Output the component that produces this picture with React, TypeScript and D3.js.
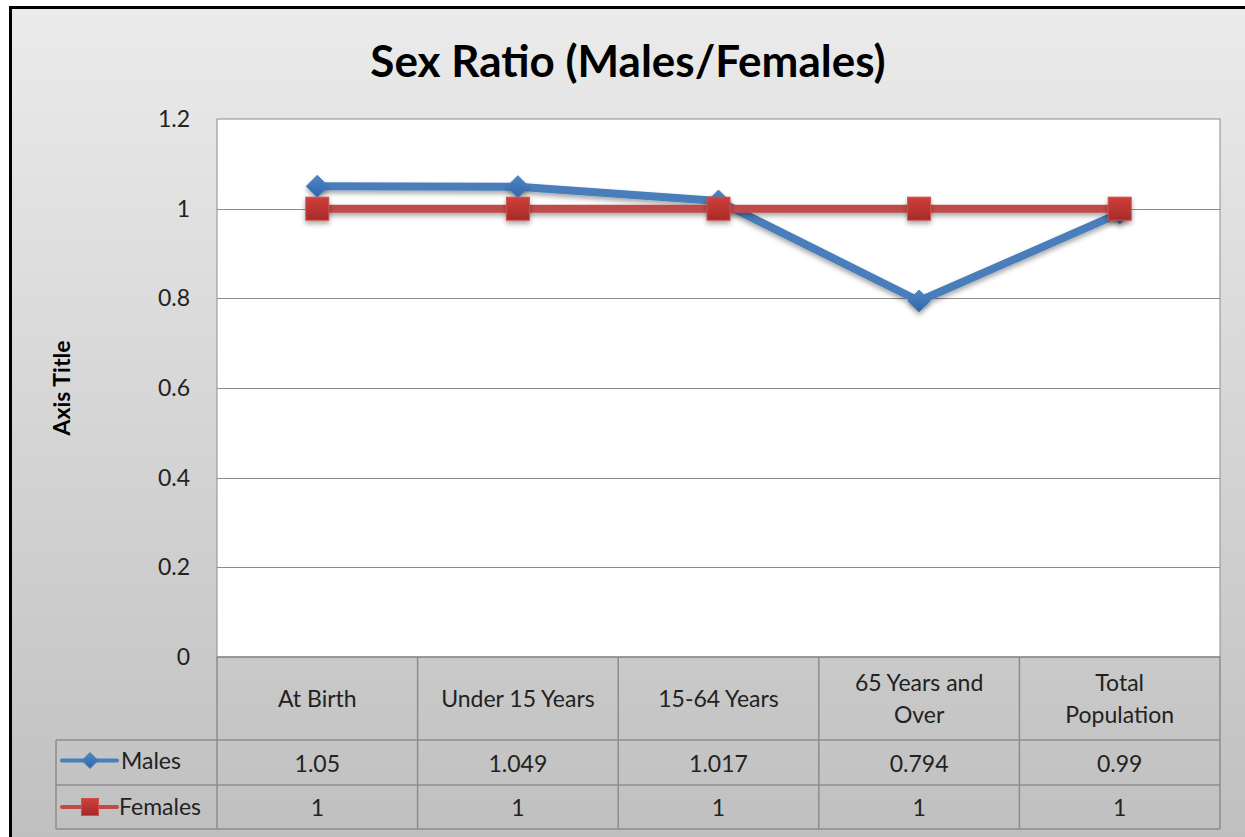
import React, { useEffect, useRef } from 'react'
import * as d3 from 'd3'

const categories = ['At Birth', 'Under 15 Years', '15-64 Years', '65 Years and Over', 'Total Population']
const categoryLines = [['At Birth'], ['Under 15 Years'], ['15-64 Years'], ['65 Years and', 'Over'], ['Total', 'Population']]
const males = [1.05, 1.049, 1.017, 0.794, 0.99]
const females = [1, 1, 1, 1, 1]
const maleLabels = ['1.05', '1.049', '1.017', '0.794', '0.99']
const femaleLabels = ['1', '1', '1', '1', '1']
const yTicks = [0, 0.2, 0.4, 0.6, 0.8, 1, 1.2]

const FONT = 'Lato, "Open Sans", sans-serif'
const BLUE = '#4a7ebb'
const RED = '#be4b48'

export default function App() {
  const ref = useRef<SVGSVGElement>(null)

  useEffect(() => {
    if (!ref.current) return
    const svg = d3.select(ref.current)
    svg.selectAll('*').remove()

    const W = 1245
    const H = 837
    const left = 217
    const right = 1220
    const top = 119
    const bottom = 657
    const legendLeft = 56
    const rowHead = 740
    const rowM = 785
    const rowF = 829

    const defs = svg.append('defs')
    const bg = defs.append('linearGradient').attr('id', 'bg').attr('x1', 0).attr('y1', 0).attr('x2', 0).attr('y2', 1)
    bg.append('stop').attr('offset', '0%').attr('stop-color', '#ebebeb')
    bg.append('stop').attr('offset', '100%').attr('stop-color', '#c0c0c0')
    const sq = defs.append('linearGradient').attr('id', 'sq').attr('x1', 0).attr('y1', 0).attr('x2', 0).attr('y2', 1)
    sq.append('stop').attr('offset', '0%').attr('stop-color', '#cf3f3c')
    sq.append('stop').attr('offset', '100%').attr('stop-color', '#a52a28')
    const dm = defs.append('linearGradient').attr('id', 'dm').attr('x1', 0).attr('y1', 0).attr('x2', 0).attr('y2', 1)
    dm.append('stop').attr('offset', '0%').attr('stop-color', '#4f86c6')
    dm.append('stop').attr('offset', '100%').attr('stop-color', '#2f66a8')
    // user space filter so a flat horizontal line still gets a shadow
    const sh = defs.append('filter').attr('id', 'sh').attr('filterUnits', 'userSpaceOnUse')
      .attr('x', 0).attr('y', 0).attr('width', W).attr('height', H)
    sh.append('feDropShadow').attr('dx', 0).attr('dy', 3).attr('stdDeviation', 2.5).attr('flood-color', '#000').attr('flood-opacity', 0.35)

    // background + frame
    svg.append('rect').attr('x', 0).attr('y', 0).attr('width', W).attr('height', H).attr('fill', '#fff')
    svg.append('rect').attr('x', 11).attr('y', 8).attr('width', W - 11).attr('height', H - 8).attr('fill', 'url(#bg)')
    svg.append('path').attr('d', `M10.5,${H} V7.5 H${W}`).attr('fill', 'none').attr('stroke', '#000').attr('stroke-width', 3)

    const x = d3.scaleBand<string>().domain(categories).range([left, right])
    const y = d3.scaleLinear().domain([0, 1.2]).range([bottom, top])

    // plot area
    svg.append('rect').attr('x', left).attr('y', top).attr('width', right - left).attr('height', bottom - top)
      .attr('fill', '#fff').attr('stroke', '#8c8c8c').attr('stroke-width', 1)

    svg.append('g').selectAll('line').data(yTicks.filter(t => t > 0 && t < 1.2)).join('line')
      .attr('x1', left).attr('x2', right)
      .attr('y1', d => Math.round(y(d)) + 0.5).attr('y2', d => Math.round(y(d)) + 0.5)
      .attr('stroke', '#8c8c8c').attr('stroke-width', 1)

    svg.append('g').selectAll('text').data(yTicks).join('text')
      .attr('x', 190).attr('y', d => y(d) + 8)
      .attr('text-anchor', 'end')
      .style('font-family', FONT).style('font-size', '23px').style('fill', '#222')
      .text(d => String(d))

    // title
    svg.append('text').attr('x', 628).attr('y', 77).attr('text-anchor', 'middle')
      .style('font-family', FONT).style('font-size', '44px').style('font-weight', 'bold').style('fill', '#000')
      .text('Sex Ratio (Males/Females)')

    svg.append('text').attr('transform', `translate(70,${y(0.6)}) rotate(-90)`).attr('text-anchor', 'middle')
      .style('font-family', FONT).style('font-size', '23px').style('font-weight', 'bold').style('fill', '#000')
      .text('Axis Title')

    // data table
    const tbl = svg.append('g').attr('stroke', '#8c8c8c').attr('stroke-width', 1.5).attr('fill', 'none')
    const cols = categories.map(c => x(c)!).concat([right])
    cols.forEach(cx => {
      tbl.append('line').attr('x1', cx).attr('x2', cx).attr('y1', bottom).attr('y2', rowF)
    })
    tbl.append('line').attr('x1', legendLeft).attr('x2', legendLeft).attr('y1', rowHead).attr('y2', rowF)
    tbl.append('line').attr('x1', left).attr('x2', right).attr('y1', bottom).attr('y2', bottom)
    ;[rowHead, rowM, rowF].forEach(ry => {
      tbl.append('line').attr('x1', legendLeft).attr('x2', right).attr('y1', ry).attr('y2', ry)
    })

    const cx = (c: string) => x(c)! + x.bandwidth() / 2
    const txt = svg.append('g').style('font-family', FONT).style('font-size', '23px').style('fill', '#222').attr('text-anchor', 'middle')
    categories.forEach((c, i) => {
      const lines = categoryLines[i]
      const mid = (bottom + rowHead) / 2
      lines.forEach((ln, j) => {
        txt.append('text').attr('x', cx(c)).attr('y', mid + 8 + (j - (lines.length - 1) / 2) * 32).text(ln)
      })
      txt.append('text').attr('x', cx(c)).attr('y', (rowHead + rowM) / 2 + 9).text(maleLabels[i])
      txt.append('text').attr('x', cx(c)).attr('y', (rowM + rowF) / 2 + 9).text(femaleLabels[i])
    })

    const diamond = (g: d3.Selection<SVGGElement, unknown, null, undefined>, px: number, py: number, r: number) =>
      g.append('path').attr('d', `M${px},${py - r} L${px + r},${py} L${px},${py + r} L${px - r},${py} Z`)
        .attr('fill', 'url(#dm)').attr('stroke', BLUE).attr('stroke-width', 1)
    const square = (g: d3.Selection<SVGGElement, unknown, null, undefined>, px: number, py: number, s: number) =>
      g.append('rect').attr('x', px - s / 2).attr('y', py - s / 2).attr('width', s).attr('height', s)
        .attr('fill', 'url(#sq)').attr('stroke', '#d0504c').attr('stroke-width', 1)

    // legend keys
    const leg = svg.append('g')
    const lmY = (rowHead + rowM) / 2 - 2
    const lfY = (rowM + rowF) / 2
    leg.append('line').attr('x1', 62).attr('x2', 117).attr('y1', lmY).attr('y2', lmY).attr('stroke', BLUE).attr('stroke-width', 4).attr('stroke-linecap', 'round')
    diamond(leg, 90, lmY, 8)
    leg.append('line').attr('x1', 62).attr('x2', 117).attr('y1', lfY).attr('y2', lfY).attr('stroke', RED).attr('stroke-width', 4).attr('stroke-linecap', 'round')
    square(leg, 90, lfY, 17)
    leg.append('text').attr('x', 121).attr('y', lmY + 8).style('font-family', FONT).style('font-size', '23px').style('fill', '#222').text('Males')
    leg.append('text').attr('x', 119).attr('y', lfY + 8).style('font-family', FONT).style('font-size', '23px').style('fill', '#222').text('Females')

    // series
    const line = d3.line<number>().x((_, i) => cx(categories[i])).y(d => y(d))
    const plot = svg.append('g')
    plot.append('path').attr('d', line(males)!).attr('fill', 'none').attr('stroke', BLUE).attr('stroke-width', 8)
      .attr('stroke-linejoin', 'round').attr('filter', 'url(#sh)')
    const mk = plot.append('g').attr('filter', 'url(#sh)')
    males.forEach((v, i) => diamond(mk, cx(categories[i]), y(v), 11))
    plot.append('path').attr('d', line(females)!).attr('fill', 'none').attr('stroke', RED).attr('stroke-width', 8)
      .attr('filter', 'url(#sh)')
    const fk = plot.append('g').attr('filter', 'url(#sh)')
    females.forEach((v, i) => square(fk, cx(categories[i]), y(v), 23))
  }, [])

  return <svg ref={ref} width={1245} height={837} style={{ position: 'absolute', left: 0, top: 0 }} />
}
